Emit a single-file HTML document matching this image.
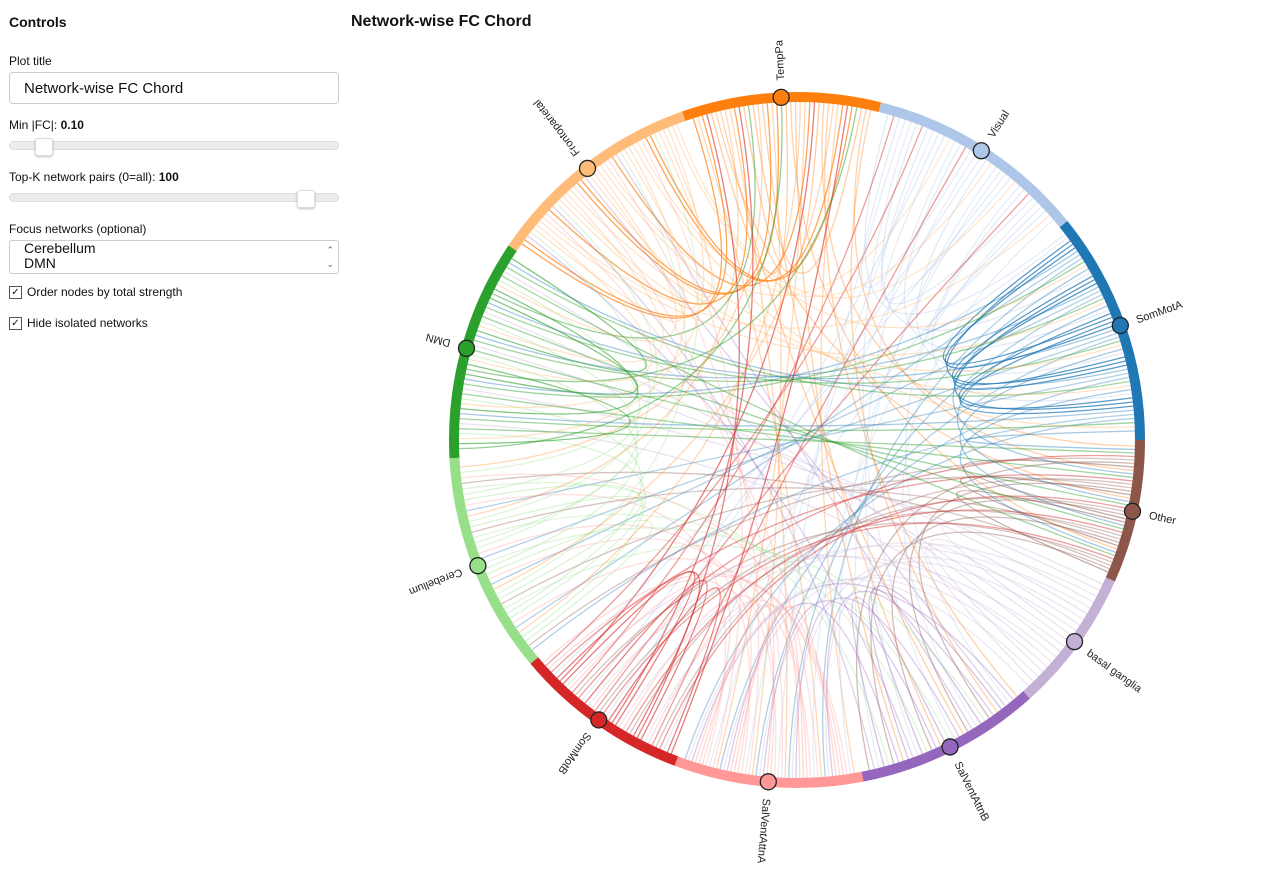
<!DOCTYPE html>
<html><head><meta charset="utf-8">
<style>
body{margin:0;width:1282px;height:875px;background:#fff;font-family:"Liberation Sans",Arial,sans-serif;color:#111;overflow:hidden;position:relative}
.ctl{position:absolute;left:9px;font-size:12px}
.h{font-weight:bold;font-size:14px}
.inp{position:absolute;left:9px;top:72px;height:32px;border:1px solid #ccc;border-radius:4px;font-size:15px;line-height:32px;padding-left:14px;box-sizing:border-box;width:330px}
.track{position:absolute;left:9px;width:330px;height:9px;border-radius:5px;background:#ececec;border:1px solid #ddd;box-sizing:border-box}
.thumb{position:absolute;width:16px;height:16px;background:#fff;border:1px solid #ddd;border-radius:3px;box-shadow:0 1px 2px rgba(0,0,0,.25)}
.sel{position:absolute;left:9px;top:240px;width:330px;height:34px;border:1px solid #ccc;border-radius:3px;box-sizing:border-box;font-size:14px;line-height:15px;padding-left:14px;overflow:hidden}
.cb{position:absolute;left:9px;font-size:12px;display:flex;align-items:center}
.cb span.box{width:11px;height:11px;border:1px solid #555;margin-right:5px;font-size:10px;line-height:11px;text-align:center}
</style></head><body>
<div class="ctl h" style="top:14px">Controls</div>
<div class="ctl" style="top:54px">Plot title</div>
<div class="inp">Network-wise FC Chord</div>
<div class="ctl" style="top:118px">Min |FC|: <b>0.10</b></div>
<div class="track" style="top:141px"></div>
<div class="thumb" style="left:35px;top:138px"></div>
<div class="ctl" style="top:170px">Top-K network pairs (0=all): <b>100</b></div>
<div class="track" style="top:193px"></div>
<div class="thumb" style="left:297px;top:190px"></div>
<div class="ctl" style="top:222px">Focus networks (optional)</div>
<div class="sel">Cerebellum<br>DMN<span style="position:absolute;right:4px;top:2px;font-size:9px;color:#666;line-height:14px">⌃<br>⌄</span></div>
<div class="cb" style="top:285px"><span class="box">✓</span>Order nodes by total strength</div>
<div class="cb" style="top:316px"><span class="box">✓</span>Hide isolated networks</div>
<div style="position:absolute;left:351px;top:13px;font-weight:bold;font-size:16px">Network-wise FC Chord</div>
<svg id="chart" width="1282" height="875" style="position:absolute;left:0;top:0">
<defs><clipPath id="cp"><rect x="340" y="37" width="942" height="838"/></clipPath></defs>
<g id="g" clip-path="url(#cp)"></g>
</svg>
<script>
const names=["TempPa","Visual","SomMotA","Other","basal ganglia","SalVentAttnB","SalVentAttnA","SomMotB","Cerebellum","DMN","Frontoparietal"];
const colors=["#ff7f0e","#aec7e8","#1f77b4","#8c564b","#c5b0d5","#9467bd","#ff9896","#d62728","#98df8a","#2ca02c","#ffbb78"];
const strengths=[33.3,37,39,24,24,31,31.6,29.4,37,37,36.7];
const pairSrc=[0,0,0,0,7,9,0,1,1,1,1,2,2,2,2,3,3,3,3,4,4,4,5,5,5,6,6,6,7,7,7,8,8,8,9,9,9,10,10,10,10,0,1,2,4,6,8];
const pairTgt=[10,0,5,6,0,0,3,2,1,5,7,2,9,8,6,3,5,8,7,4,9,6,5,6,10,6,7,8,7,3,1,8,10,9,9,2,3,10,9,2,1,8,6,3,7,10,5];
const pairCount=[8,3,5,5,4,3,4,6,3,5,4,8,5,5,5,3,5,4,4,3,5,5,3,5,4,4,6,5,4,5,4,3,4,5,4,5,5,4,5,5,4,4,5,5,4,4,4];
const pairAlpha=[.7,.4,.35,.3,.6,.5,.35,.35,.35,.3,.35,.75,.4,.35,.35,.5,.4,.35,.35,.35,.35,.3,.4,.35,.3,.4,.35,.3,.6,.45,.45,.35,.3,.35,.6,.45,.45,.4,.4,.4,.35,.3,.3,.4,.3,.3,.3];
const cx=797,cy=440,R=348,W=10,startDeg=-19.3;
const g=document.getElementById('g'),NS='http://www.w3.org/2000/svg';
const total=strengths.reduce((a,b)=>a+b,0);
const spans=[];let acc=startDeg;
strengths.forEach(s=>{const d=s/total*360;spans.push([acc,acc+d]);acc+=d;});
const pt=(deg,r)=>{const a=deg*Math.PI/180;return [cx+r*Math.sin(a),cy-r*Math.cos(a)];};
const gcd=(a,b)=>b?gcd(b,a%b):a;
const ends=names.map(()=>[]);
pairSrc.forEach((s,i)=>{for(let k=0;k<pairCount[i];k++){ends[s].push([i,k,0]);ends[pairTgt[i]].push([i,k,1]);}});
const endAng={};
ends.forEach((list,n)=>{const [a0,a1]=spans[n];const m=(a1-a0)*0.03;const L=list.length;
  let p=Math.round(L*0.382);while(gcd(p,L)!==1)p++;
  list.forEach((e,j)=>{const pos=(j*p)%L;endAng[e.join('-')]=a0+m+(a1-a0-2*m)*(pos+0.5)/L;});});
pairSrc.forEach((s,i)=>{for(let k=0;k<pairCount[i];k++){
  const p1=pt(endAng[i+'-'+k+'-0'],R-W),p2=pt(endAng[i+'-'+k+'-1'],R-W);
  const p=document.createElementNS(NS,'path');
  p.setAttribute('d',`M${p1[0]},${p1[1]}Q${cx},${cy} ${p2[0]},${p2[1]}`);
  p.setAttribute('fill','none');p.setAttribute('stroke',colors[s]);p.setAttribute('stroke-width','1.3');p.setAttribute('stroke-opacity',pairAlpha[i]);
  
  
  g.appendChild(p);
  [p1,p2].forEach(q=>{});
}});
names.forEach((nm,n)=>{
  const [a0,a1]=spans[n];const ro=R,ri=R-W;
  const o0=pt(a0,ro),o1=pt(a1,ro),i1=pt(a1,ri),i0=pt(a0,ri);const lg=(a1-a0)>180?1:0;
  const arc=document.createElementNS(NS,'path');
  arc.setAttribute('d',`M${o0}A${ro},${ro} 0 ${lg} 1 ${o1}L${i1}A${ri},${ri} 0 ${lg} 0 ${i0}Z`);
  arc.setAttribute('fill',colors[n]);
  
  
  g.appendChild(arc);
  const mid=(a0+a1)/2,c=pt(mid,R-W/2);
  const node=document.createElementNS(NS,'circle');
  node.setAttribute('cx',c[0]);node.setAttribute('cy',c[1]);node.setAttribute('r',8);
  node.setAttribute('fill',colors[n]);node.setAttribute('stroke','#222');node.setAttribute('stroke-width','1.3');
  
  
  g.appendChild(node);
  const l=pt(mid,R+12);
  const t=document.createElementNS(NS,'text');
  t.setAttribute('x',l[0]);t.setAttribute('y',l[1]);t.setAttribute('dy','0.35em');
  t.setAttribute('font-size','11');t.setAttribute('fill','#222');
  t.setAttribute('font-family','Liberation Sans, Arial, sans-serif');
  t.setAttribute('transform',`rotate(${mid-90} ${l[0]} ${l[1]})`);
  t.textContent=nm;
  
  
  g.appendChild(t);
});
</script>
</body></html>
